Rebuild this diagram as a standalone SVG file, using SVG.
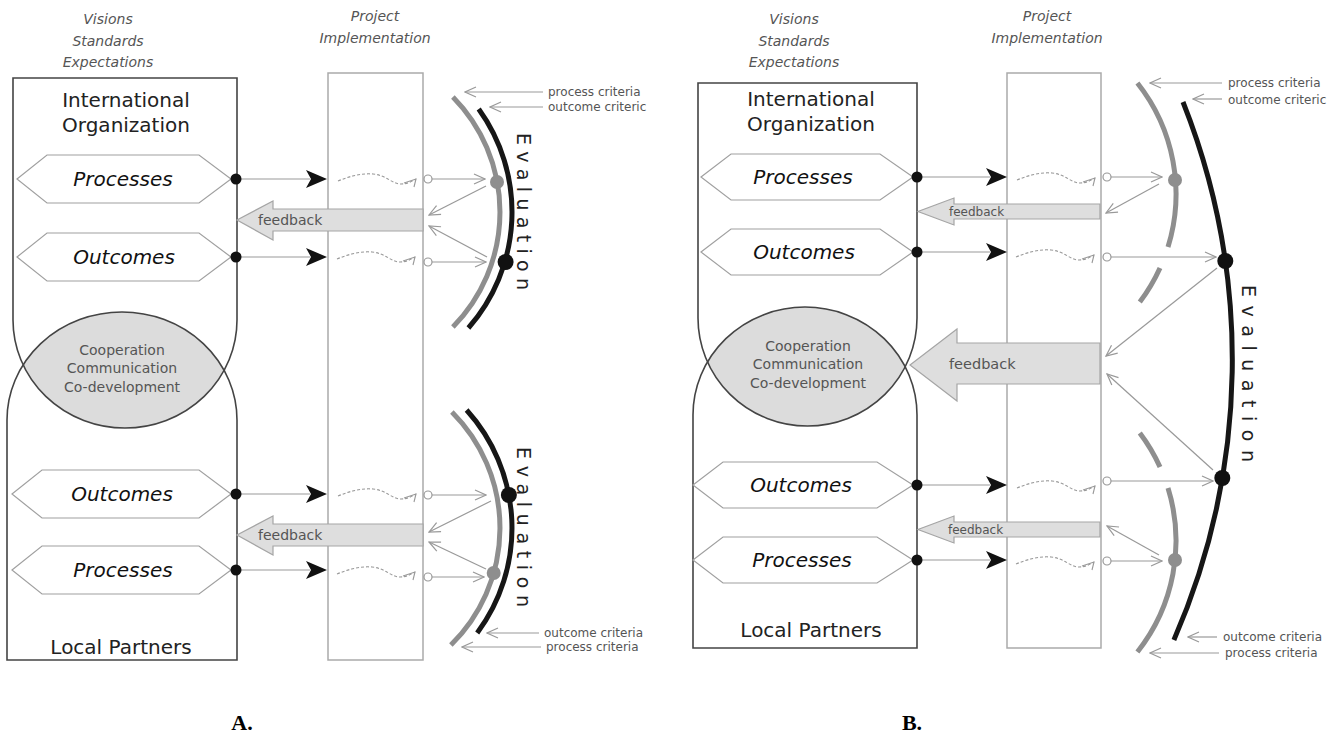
<svg xmlns="http://www.w3.org/2000/svg" xmlns:xlink="http://www.w3.org/1999/xlink" width="1338" height="733" viewBox="0 0 1338 733">
<style>
.box{fill:none;stroke:#444;stroke-width:1.6}
.lens{fill:#dcdcdc;stroke:none}
.hex{fill:#fff;stroke:#a0a0a0;stroke-width:1.2}
.mid{fill:none;stroke:#aaa;stroke-width:1.5}
.ln{fill:none;stroke:#999;stroke-width:1.2}
.fb{fill:#dedede;stroke:#a5a5a5;stroke-width:1.2}
.garc{fill:none;stroke:#8e8e8e;stroke-width:5}
.barc{fill:none;stroke:#161616;stroke-width:5}
.dot{fill:#111}
.gdot{fill:#8e8e8e}
.circ{fill:#fff;stroke:#999;stroke-width:1.2}
.hdr{font-family:"DejaVu Sans",sans-serif;font-style:italic;font-size:14px;fill:#555;text-anchor:middle}
.org{font-family:"DejaVu Sans",sans-serif;font-size:20px;fill:#222;text-anchor:middle}
.hx{font-family:"DejaVu Sans",sans-serif;font-style:italic;font-size:20px;fill:#111;text-anchor:middle}
.coop{font-family:"DejaVu Sans",sans-serif;font-size:14px;fill:#555;text-anchor:middle}
.fbt{font-family:"DejaVu Sans",sans-serif;font-size:14px;fill:#555}
.crit{font-family:"DejaVu Sans",sans-serif;font-size:12px;fill:#555}
.ev{font-family:"DejaVu Sans",sans-serif;font-size:19px;fill:#222}
.lbl{font-family:"Liberation Serif",serif;font-weight:bold;font-size:22px;fill:#000;text-anchor:middle}
</style>
<defs>
<marker id="v" viewBox="0 0 13 12" markerWidth="13" markerHeight="12" refX="12" refY="6" orient="auto" markerUnits="userSpaceOnUse">
<path d="M1,1 L12,6 L1,11" fill="none" stroke="#999" stroke-width="1.2"/>
</marker>
<path id="ah" d="M0,0 L-21,-9 L-16,0 L-21,9 Z" fill="#111"/>
<g id="wave">
<path d="M0,0 C12,-5 24,-8 35,-7 C48,-6 54,3 63,3 C70,3 74,0 78,-2" fill="none" stroke="#999" stroke-width="1.1" stroke-dasharray="3 2"/>
<path d="M66,2 L78,-2 L76,6" fill="none" stroke="#999" stroke-width="1.1"/>
</g>
<clipPath id="clipA"><path d="M13,320 V78 H237 V320 A112,108 0 0 1 13,320 Z"/></clipPath>
<clipPath id="clipB"><path d="M698,318 V83 H917 V318 A109.5,108 0 0 1 698,318 Z"/></clipPath>
</defs>
<rect width="1338" height="733" fill="#fff"/>

<!-- ================= PANEL A ================= -->
<g id="a-header">
<text class="hdr" x="108" y="24">Visions</text>
<text class="hdr" x="108" y="46">Standards</text>
<text class="hdr" x="108" y="67">Expectations</text>
<text class="hdr" x="375" y="21">Project</text>
<text class="hdr" x="375" y="43">Implementation</text>
</g>
<g id="a-lens">
<path class="lens" clip-path="url(#clipA)" d="M7,420 A115,108 0 0 1 237,420 V660 H7 Z"/>
<text class="coop" x="122" y="355">Cooperation</text>
<text class="coop" x="122" y="373">Communication</text>
<text class="coop" x="122" y="392">Co-development</text>
</g>
<g id="a-intl">
<path class="box" d="M13,320 V78 H237 V320 A112,108 0 0 1 13,320"/>
<text class="org" x="126" y="107">International</text>
<text class="org" x="126" y="132">Organization</text>
</g>
<g id="a-local">
<path class="box" d="M7,420 A115,108 0 0 1 237,420 V660 H7 Z"/>
<text class="org" x="121" y="654">Local Partners</text>
</g>
<g id="a-proc1">
<polygon class="hex" points="17,179 47,155 199,155 231,179 199,203 47,203"/>
<text class="hx" x="123" y="186">Processes</text>
</g>
<g id="a-out1">
<polygon class="hex" points="17,257 47,233 199,233 231,257 199,281 47,281"/>
<text class="hx" x="124" y="264">Outcomes</text>
</g>
<g id="a-out2">
<polygon class="hex" points="12,494 42,470 199,470 231,494 199,518 42,518"/>
<text class="hx" x="122" y="501">Outcomes</text>
</g>
<g id="a-proc2">
<polygon class="hex" points="12,570 42,546 199,546 231,570 199,594 42,594"/>
<text class="hx" x="123" y="577">Processes</text>
</g>
<g id="a-impl">
<rect class="mid" x="328" y="73" width="95" height="587"/>
</g>
<g id="a-eval-top">
<path class="garc" d="M452.9,97 A164,164 0 0 1 452.9,327"/>
<path class="barc" d="M478.7,109 A176,176 0 0 1 468.4,328"/>
<circle class="gdot" cx="497" cy="182" r="7"/>
<circle class="dot" cx="505.6" cy="262" r="8"/>
<text class="ev" transform="translate(517,133) rotate(90)" textLength="157" lengthAdjust="spacing">Evaluation</text>
</g>
<g id="a-eval-bottom">
<path class="garc" d="M451.9,412 A164,164 0 0 1 450.9,645"/>
<path class="barc" d="M466.6,410 A176,176 0 0 1 477.2,633"/>
<circle class="dot" cx="508.9" cy="495" r="8"/>
<circle class="gdot" cx="493.7" cy="573" r="7"/>
<text class="ev" transform="translate(517,447) rotate(90)" textLength="160" lengthAdjust="spacing">Evaluation</text>
</g>
<g id="a-criteria">
<text class="crit" x="548" y="96">process criteria</text>
<text class="crit" x="548" y="111">outcome criteric</text>
<text class="crit" x="544" y="637">outcome criteria</text>
<text class="crit" x="546" y="651">process criteria</text>
</g>

<!-- ================= PANEL B ================= -->
<g id="b-header">
<text class="hdr" x="794" y="24">Visions</text>
<text class="hdr" x="794" y="46">Standards</text>
<text class="hdr" x="794" y="67">Expectations</text>
<text class="hdr" x="1047" y="21">Project</text>
<text class="hdr" x="1047" y="43">Implementation</text>
</g>
<g id="b-lens">
<path class="lens" clip-path="url(#clipB)" d="M693,415 A112,108 0 0 1 917,415 V648 H693 Z"/>
<text class="coop" x="808" y="351">Cooperation</text>
<text class="coop" x="808" y="369">Communication</text>
<text class="coop" x="808" y="388">Co-development</text>
</g>
<g id="b-intl">
<path class="box" d="M698,318 V83 H917 V318 A109.5,108 0 0 1 698,318"/>
<text class="org" x="811" y="106">International</text>
<text class="org" x="811" y="131">Organization</text>
</g>
<g id="b-local">
<path class="box" d="M693,415 A112,108 0 0 1 917,415 V648 H693 Z"/>
<text class="org" x="811" y="637">Local Partners</text>
</g>
<g id="b-proc1">
<polygon class="hex" points="701,177 731,154 880,154 913,177 880,200 731,200"/>
<text class="hx" x="803" y="184">Processes</text>
</g>
<g id="b-out1">
<polygon class="hex" points="701,252 731,229 880,229 913,252 880,275 731,275"/>
<text class="hx" x="804" y="259">Outcomes</text>
</g>
<g id="b-out2">
<polygon class="hex" points="693,485 723,462 877,462 913,485 877,508 723,508"/>
<text class="hx" x="801" y="492">Outcomes</text>
</g>
<g id="b-proc2">
<polygon class="hex" points="693,560 723,537 877,537 913,560 877,583 723,583"/>
<text class="hx" x="802" y="567">Processes</text>
</g>
<g id="b-impl">
<rect class="mid" x="1007" y="73" width="94" height="575"/>
</g>
<g id="b-eval">
<path class="garc" d="M1137.4,83 A179,179 0 0 1 1168,247"/>
<path class="garc" d="M1160,268 A179,179 0 0 1 1139.8,302"/>
<path class="garc" d="M1139.8,433 A179,179 0 0 1 1160,467"/>
<path class="garc" d="M1168,488 A179,179 0 0 1 1137.4,652"/>
<path class="barc" d="M1183,102 A700,700 0 0 1 1173.9,640"/>
<circle class="gdot" cx="1175" cy="180" r="7"/>
<circle class="dot" cx="1225.3" cy="261" r="8"/>
<circle class="dot" cx="1222.3" cy="478" r="8"/>
<circle class="gdot" cx="1175" cy="560" r="7"/>
<text class="ev" transform="translate(1242,285) rotate(90)" textLength="177" lengthAdjust="spacing">Evaluation</text>
</g>
<g id="b-criteria">
<text class="crit" x="1228" y="87">process criteria</text>
<text class="crit" x="1228" y="104">outcome criteric</text>
<text class="crit" x="1223" y="641">outcome criteria</text>
<text class="crit" x="1225" y="657">process criteria</text>
</g>

<g id="labels">
<text class="lbl" x="242" y="730">A.</text>
<text class="lbl" x="912" y="730">B.</text>
</g>

<!-- ================= CONNECTORS ================= -->
<g id="connectors">
<!-- A rows -->
<line class="ln" x1="236" y1="179" x2="310" y2="179"/>
<use xlink:href="#ah" href="#ah" x="327" y="179"/>
<line class="ln" x1="236" y1="257" x2="310" y2="257"/>
<use xlink:href="#ah" href="#ah" x="327" y="257"/>
<line class="ln" x1="236" y1="494" x2="310" y2="494"/>
<use xlink:href="#ah" href="#ah" x="327" y="494"/>
<line class="ln" x1="236" y1="570" x2="310" y2="570"/>
<use xlink:href="#ah" href="#ah" x="327" y="570"/>
<circle class="dot" cx="236" cy="179" r="5.5"/>
<circle class="dot" cx="236" cy="257" r="5.5"/>
<circle class="dot" cx="236" cy="494" r="5.5"/>
<circle class="dot" cx="236" cy="570" r="5.5"/>
<use xlink:href="#wave" href="#wave" x="338" y="181"/>
<use xlink:href="#wave" href="#wave" x="337" y="259"/>
<use xlink:href="#wave" href="#wave" x="338" y="496"/>
<use xlink:href="#wave" href="#wave" x="337" y="574"/>
<line class="ln" x1="432" y1="179" x2="485" y2="179" marker-end="url(#v)"/>
<line class="ln" x1="432" y1="262" x2="486" y2="262" marker-end="url(#v)"/>
<line class="ln" x1="432" y1="495" x2="486" y2="495" marker-end="url(#v)"/>
<line class="ln" x1="432" y1="577" x2="484" y2="577" marker-end="url(#v)"/>
<circle class="circ" cx="428" cy="179" r="4"/>
<circle class="circ" cx="428" cy="262" r="4"/>
<circle class="circ" cx="428" cy="495" r="4"/>
<circle class="circ" cx="428" cy="577" r="4"/>
<line class="ln" x1="486" y1="186" x2="429" y2="215" marker-end="url(#v)"/>
<line class="ln" x1="487" y1="257" x2="429" y2="226" marker-end="url(#v)"/>
<line class="ln" x1="491" y1="501" x2="429" y2="532" marker-end="url(#v)"/>
<line class="ln" x1="486" y1="569" x2="429" y2="542" marker-end="url(#v)"/>
<polygon class="fb" points="423,209 273,209 273,201 237,220 273,240 273,231 423,231"/>
<text class="fbt" x="258" y="225">feedback</text>
<polygon class="fb" points="423,524 273,524 273,516 237,535 273,555 273,546 423,546"/>
<text class="fbt" x="258" y="540">feedback</text>
<line class="ln" x1="543" y1="92" x2="465" y2="92" marker-end="url(#v)"/>
<line class="ln" x1="543" y1="107" x2="490" y2="107" marker-end="url(#v)"/>
<line class="ln" x1="539" y1="633" x2="487" y2="633" marker-end="url(#v)"/>
<line class="ln" x1="541" y1="647" x2="462" y2="647" marker-end="url(#v)"/>

<!-- B rows -->
<line class="ln" x1="917" y1="177" x2="990" y2="177"/>
<use xlink:href="#ah" href="#ah" x="1007" y="177"/>
<line class="ln" x1="917" y1="252" x2="990" y2="252"/>
<use xlink:href="#ah" href="#ah" x="1007" y="252"/>
<line class="ln" x1="917" y1="485" x2="990" y2="485"/>
<use xlink:href="#ah" href="#ah" x="1007" y="485"/>
<line class="ln" x1="917" y1="560" x2="990" y2="560"/>
<use xlink:href="#ah" href="#ah" x="1007" y="560"/>
<circle class="dot" cx="917" cy="177" r="5.5"/>
<circle class="dot" cx="917" cy="252" r="5.5"/>
<circle class="dot" cx="917" cy="485" r="5.5"/>
<circle class="dot" cx="917" cy="560" r="5.5"/>
<use xlink:href="#wave" href="#wave" x="1017" y="180"/>
<use xlink:href="#wave" href="#wave" x="1016" y="257"/>
<use xlink:href="#wave" href="#wave" x="1017" y="488"/>
<use xlink:href="#wave" href="#wave" x="1016" y="564"/>
<line class="ln" x1="1111" y1="177" x2="1162" y2="177" marker-end="url(#v)"/>
<line class="ln" x1="1111" y1="257" x2="1216" y2="257" marker-end="url(#v)"/>
<line class="ln" x1="1111" y1="481" x2="1213" y2="481" marker-end="url(#v)"/>
<line class="ln" x1="1111" y1="561" x2="1162" y2="561" marker-end="url(#v)"/>
<circle class="circ" cx="1107" cy="177" r="4"/>
<circle class="circ" cx="1107" cy="257" r="4"/>
<circle class="circ" cx="1107" cy="481" r="4"/>
<circle class="circ" cx="1107" cy="561" r="4"/>
<line class="ln" x1="1159" y1="184" x2="1106" y2="213" marker-end="url(#v)"/>
<line class="ln" x1="1217" y1="268" x2="1106" y2="356" marker-end="url(#v)"/>
<line class="ln" x1="1213" y1="470" x2="1107" y2="374" marker-end="url(#v)"/>
<line class="ln" x1="1159" y1="555" x2="1107" y2="526" marker-end="url(#v)"/>
<polygon class="fb" points="1100,204 954,204 954,198 918,211.5 954,225 954,219 1100,219"/>
<text class="fbt" style="font-size:12px" x="949" y="216">feedback</text>
<polygon class="fb" points="1100,343 957,343 957,329 910,365 957,401 957,384 1100,384"/>
<text class="fbt" style="font-size:14.5px" x="949" y="369">feedback</text>
<polygon class="fb" points="1100,522 954,522 954,516 918,529.5 954,543 954,537 1100,537"/>
<text class="fbt" style="font-size:12px" x="948" y="534">feedback</text>
<line class="ln" x1="1222" y1="83" x2="1150" y2="83" marker-end="url(#v)"/>
<line class="ln" x1="1222" y1="99" x2="1193" y2="99" marker-end="url(#v)"/>
<line class="ln" x1="1217" y1="637" x2="1188" y2="637" marker-end="url(#v)"/>
<line class="ln" x1="1219" y1="653" x2="1150" y2="653" marker-end="url(#v)"/>
</g>
</svg>
